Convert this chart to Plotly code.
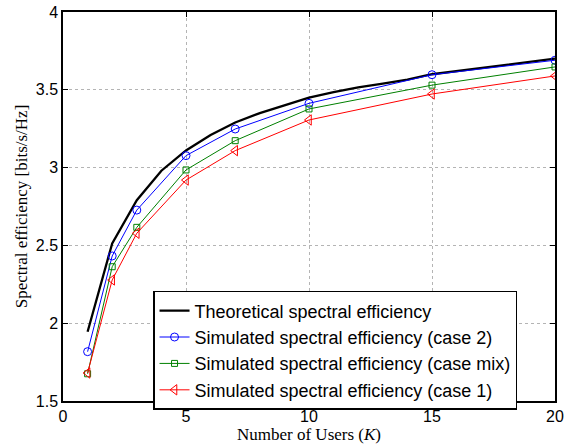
import plotly.graph_objects as go

K_theory = list(range(1, 21))
theory = [1.945, 2.513, 2.79, 2.98, 3.11, 3.21, 3.29, 3.35, 3.40, 3.45,
          3.485, 3.515, 3.54, 3.565, 3.60, 3.62, 3.64, 3.66, 3.68, 3.70]

K_sim = [1, 2, 3, 5, 7, 10, 15, 20]
case2 = [1.817, 2.432, 2.727, 3.077, 3.248, 3.413, 3.597, 3.69]
case_mix = [1.675, 2.363, 2.616, 2.985, 3.173, 3.377, 3.53, 3.647]
case1 = [1.680, 2.278, 2.578, 2.92, 3.109, 3.306, 3.473, 3.589]

x_ticks = [0, 5, 10, 15, 20]
y_ticks = [1.5, 2, 2.5, 3, 3.5, 4]
y_tick_labels = ["1.5", "2", "2.5", "3", "3.5", "4"]

fig = go.Figure()
fig.add_trace(go.Scatter(x=K_theory, y=theory, mode="lines",
                         line=dict(color="black", width=2.3),
                         name="Theoretical spectral efficiency"))
fig.add_trace(go.Scatter(x=K_sim, y=case2, mode="lines+markers",
                         line=dict(color="#0000ff", width=1),
                         marker=dict(symbol="circle-open", size=8, color="#0000ff", line=dict(width=1)),
                         name="Simulated spectral efficiency (case 2)"))
fig.add_trace(go.Scatter(x=K_sim, y=case_mix, mode="lines+markers",
                         line=dict(color="#008000", width=1),
                         marker=dict(symbol="square-open", size=6, color="#008000", line=dict(width=1)),
                         name="Simulated spectral efficiency (case mix)"))
fig.add_trace(go.Scatter(x=K_sim, y=case1, mode="lines+markers",
                         line=dict(color="#ff0000", width=1),
                         marker=dict(symbol="triangle-left-open", size=9, color="#ff0000", line=dict(width=1)),
                         name="Simulated spectral efficiency (case 1)"))

axis_common = dict(showline=True, linecolor="black", linewidth=1.5, mirror="ticks",
                   ticks="inside", ticklen=5, tickcolor="black",
                   showgrid=True, gridcolor="#b4b4b4", griddash="dot", gridwidth=1,
                   zeroline=False, automargin=False,
                   tickfont=dict(family="Liberation Sans, Arial", size=16, color="black"))

fig.update_xaxes(range=[0, 20], tickvals=x_ticks,
                 title=dict(text="Number of Users (<i>K</i>)",
                            font=dict(family="Liberation Serif, Times New Roman", size=17, color="black"),
                            standoff=2),
                 **axis_common)
fig.update_yaxes(range=[1.5, 4], tickvals=y_ticks, ticktext=y_tick_labels,
                 title=dict(text="Spectral efficiency [bits/s/Hz]",
                            font=dict(family="Liberation Serif, Times New Roman", size=17, color="black"),
                            standoff=4),
                 **axis_common)

fig.update_layout(width=577, height=445,
                  margin=dict(l=63, r=22, t=12, b=44),
                  paper_bgcolor="white", plot_bgcolor="white",
                  showlegend=True,
                  legend=dict(x=0.183, y=0.283, xanchor="left", yanchor="top",
                              bgcolor="white", bordercolor="black", borderwidth=1.5,
                              font=dict(family="Liberation Sans, Arial", size=18, color="black"),
                              tracegroupgap=0, itemwidth=30))

fig.write_html("out.html", config={"displayModeBar": False},
               post_script="document.body.style.margin='0';document.body.style.overflow='hidden';")
